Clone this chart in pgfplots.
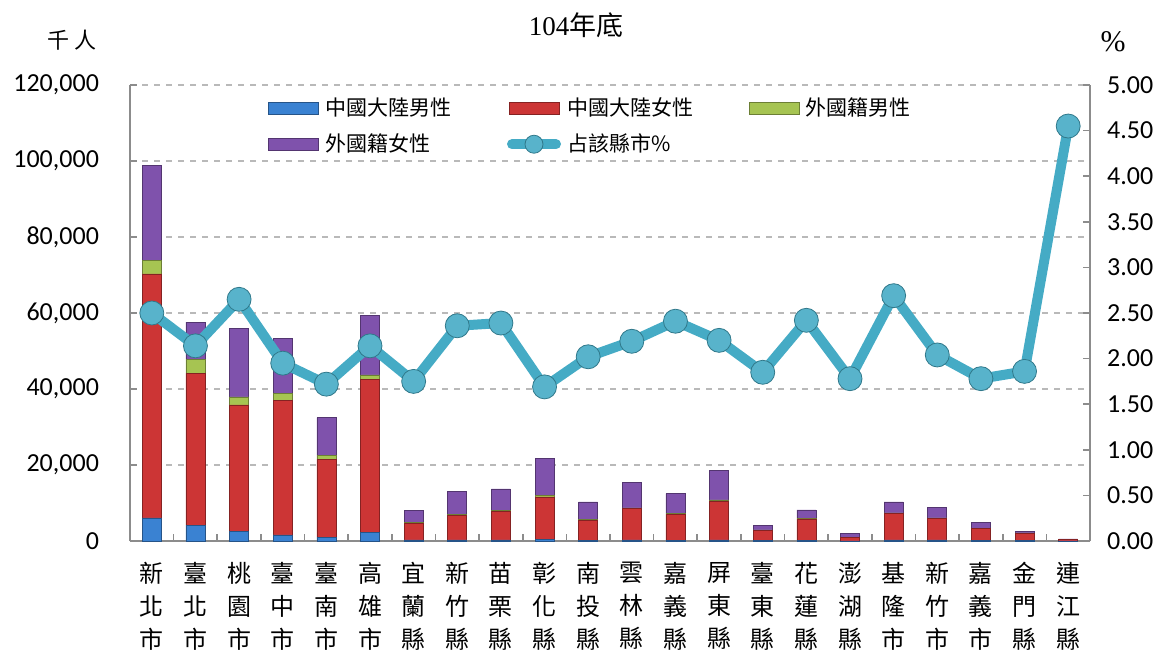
\documentclass[border=0pt]{standalone}
\usepackage{pgfplots}
\pgfplotsset{compat=1.18}
\usepackage{fontspec}
\setmainfont{Carlito}
\newfontfamily\cjk{Noto Sans CJK TC}
\newfontfamily\tms{Liberation Serif}
\definecolor{cblue}{HTML}{3A82D2}
\definecolor{cred}{HTML}{CC3535}
\definecolor{cgreen}{HTML}{A6C452}
\definecolor{cpurple}{HTML}{7F52AC}
\definecolor{cline}{HTML}{45ABC5}
\definecolor{axgray}{HTML}{8C8C8C}
\pgfplotsset{
  barleg/.style={legend image code/.code={\draw[##1] (0pt,-3pt) rectangle (25pt,3pt);}},
  barsty/.style={draw=#1!65!black, line width=0.3pt, fill=#1, barleg},
}
\begin{document}
\begin{tikzpicture}
\useasboundingbox (0,0) rectangle (579.5pt,329.5pt);
\begin{axis}[
  at={(65pt,59pt)}, anchor=south west,
  scale only axis, width=480pt, height=228pt,
  xmin=-0.5, xmax=21.5, ymin=0, ymax=120000,
  ybar stacked, bar width=9.5pt,
  axis x line*=bottom, axis y line*=left,
  axis line style={-, draw=axgray, line width=0.9pt},
  tick align=inside, major tick length=3.5pt,
  tick style={draw=axgray, line width=0.8pt},
  xtick={0.5,1.5,...,20.5}, xticklabels={},
  extra x ticks={0,1,...,21},
  extra x tick labels={{新\\北\\市},{臺\\北\\市},{桃\\園\\市},{臺\\中\\市},{臺\\南\\市},{高\\雄\\市},{宜\\蘭\\縣},{新\\竹\\縣},{苗\\栗\\縣},{彰\\化\\縣},{南\\投\\縣},{雲\\林\\縣},{嘉\\義\\縣},{屏\\東\\縣},{臺\\東\\縣},{花\\蓮\\縣},{澎\\湖\\縣},{基\\隆\\市},{新\\竹\\市},{嘉\\義\\市},{金\\門\\縣},{連\\江\\縣}},
  extra x tick style={major tick length=0pt, grid=none},
  xticklabel style={align=center, anchor=north, yshift=-7pt, font=\cjk\fontsize{12}{16.5}\selectfont},
  ytick={0,20000,...,120000},
  scaled y ticks=false,
  yticklabel style={/pgf/number format/.cd, fixed, 1000 sep={,}, assume math mode=true, /tikz/.cd, font=\fontsize{13}{14}\selectfont, xshift=-12pt},
  ymajorgrids, major grid style={dashed, draw=gray!55, line width=0.8pt},
  legend columns=3, legend cell align=left,
  legend style={at={(0.1375,0.99)}, anchor=north west, draw=none, fill=none,
    font=\cjk\fontsize{10.5}{12}\selectfont, row sep=3.5pt,
    /tikz/every even column/.append style={column sep=26pt},
    /tikz/every odd column/.append style={column sep=1pt}},
]
\addplot[barsty=cblue] coordinates {(0,6100) (1,4200) (2,2500) (3,1600) (4,1000) (5,2200) (6,300) (7,300) (8,300) (9,400) (10,200) (11,300) (12,200) (13,300) (14,100) (15,200) (16,50) (17,300) (18,300) (19,100) (20,100) (21,20)};
\addplot[barsty=cred] coordinates {(0,64200) (1,39900) (2,33300) (3,35300) (4,20500) (5,40300) (6,4400) (7,6400) (8,7400) (9,11200) (10,5300) (11,8200) (12,6800) (13,10200) (14,2700) (15,5600) (16,900) (17,6900) (18,5600) (19,3200) (20,2000) (21,400)};
\addplot[barsty=cgreen] coordinates {(0,3600) (1,3700) (2,2100) (3,2000) (4,1000) (5,1200) (6,200) (7,300) (8,300) (9,400) (10,200) (11,200) (12,200) (13,300) (14,100) (15,200) (16,50) (17,200) (18,200) (19,100) (20,30) (21,10)};
\addplot[barsty=cpurple] coordinates {(0,25000) (1,9800) (2,18100) (3,14400) (4,10000) (5,15600) (6,3100) (7,6000) (8,5700) (9,9800) (10,4600) (11,6700) (12,5300) (13,7700) (14,1200) (15,2200) (16,1000) (17,2900) (18,2800) (19,1500) (20,300) (21,100)};
\addlegendimage{legend image code/.code={\draw[draw=cline, line width=5pt, line cap=round] (1.5pt,0pt)--(23.5pt,0pt); \draw[draw=cline!70!black, line width=0.4pt, fill=cline!90!white] (12.5pt,0pt) circle (4.5pt);}}
\legend{中國大陸男性,中國大陸女性,外國籍男性,外國籍女性,占該縣市\%}
\end{axis}
\begin{axis}[
  at={(65pt,59pt)}, anchor=south west,
  scale only axis, width=480pt, height=228pt,
  xmin=-0.5, xmax=21.5, ymin=0, ymax=5,
  axis x line=none, axis y line*=right,
  axis line style={-, draw=axgray, line width=0.9pt},
  tick align=inside, major tick length=3.5pt,
  tick style={draw=axgray, line width=0.8pt},
  ytick={0,0.5,1,1.5,2,2.5,3,3.5,4,4.5,5},
  yticklabel style={/pgf/number format/.cd, fixed, fixed zerofill, precision=2, assume math mode=true, /tikz/.cd, font=\fontsize{13}{14}\selectfont, xshift=5pt},
  clip=false,
]
\addplot[color=cline, line width=5pt, line join=round, mark=*, mark size=6pt, mark options={draw=cline!70!black, line width=0.4pt, fill=cline!90!white}] coordinates {(0,2.50) (1,2.14) (2,2.65) (3,1.95) (4,1.72) (5,2.14) (6,1.75) (7,2.36) (8,2.39) (9,1.69) (10,2.02) (11,2.19) (12,2.41) (13,2.20) (14,1.85) (15,2.42) (16,1.78) (17,2.69) (18,2.04) (19,1.78) (20,1.86) (21,4.55)};
\end{axis}
\node[font=\fontsize{13.5}{15}\selectfont] at (288pt,317pt) {\tms 104\cjk 年底};
\node[font=\cjk\fontsize{11}{12}\selectfont] at (36pt,309.5pt) {千\hspace{3pt}人};
\node[font=\tms\fontsize{15}{16}\selectfont] at (556.5pt,308.5pt) {\%};
\end{tikzpicture}
\end{document}
